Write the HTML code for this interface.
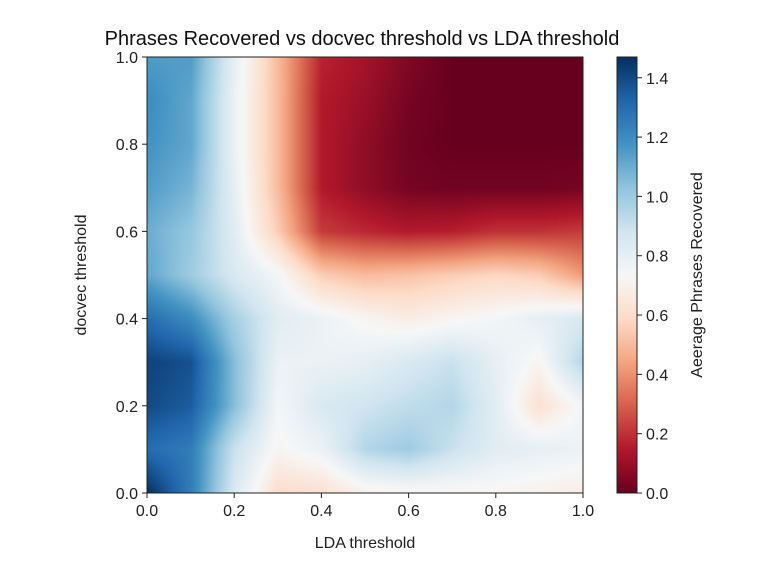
<!DOCTYPE html>
<html><head><meta charset="utf-8"><style>
body{margin:0;background:#fff;width:782px;height:571px;overflow:hidden;font-family:"Liberation Sans",sans-serif;}
#wrap{position:relative;width:782px;height:571px;}
canvas{position:absolute;}
</style></head><body>
<div id="wrap">
<canvas id="heat" width="436" height="436" style="left:147px;top:57px;width:436px;height:436px"></canvas>
<canvas id="cbar" width="20" height="436" style="left:617px;top:57px;width:20px;height:436px"></canvas>
<svg id="svg" width="782" height="571" style="position:absolute;left:0;top:0"></svg>
</div>
<script>
const ldaValues=[0,0.1,0.2,0.3,0.4,0.5,0.6,0.7,0.8,0.9,1.0];
const docvecValues=[0,0.1,0.2,0.3,0.4,0.5,0.6,0.7,0.8,0.9,1.0];
// rows: docvec 0 -> 1 ; columns: LDA 0 -> 1
const row00=[1.47,1.25,0.85,0.6,0.62,0.7,0.72,0.72,0.72,0.7,0.68];
const row01=[1.3,1.25,0.9,0.72,0.78,0.95,1.0,0.9,0.82,0.8,0.78];
const row02=[1.4,1.35,1.05,0.75,0.85,0.88,0.92,0.95,0.82,0.62,0.75];
const row03=[1.42,1.38,1.05,0.78,0.78,0.8,0.85,0.9,0.8,0.72,0.95];
const row04=[1.3,1.2,0.98,0.82,0.78,0.72,0.68,0.72,0.75,0.8,0.85];
const row05=[1.12,1.0,0.85,0.75,0.55,0.5,0.52,0.55,0.58,0.55,0.42];
const row06=[1.1,1.02,0.82,0.55,0.22,0.18,0.15,0.16,0.2,0.2,0.22];
const row07=[1.15,1.08,0.8,0.5,0.15,0.08,0.03,0.02,0.02,0.02,0.03];
const row08=[1.18,1.12,0.78,0.5,0.15,0.08,0.02,0.0,0.0,0.0,0.0];
const row09=[1.2,1.12,0.78,0.5,0.15,0.1,0.03,0.0,0.0,0.0,0.0];
const row10=[1.15,1.15,0.8,0.5,0.17,0.12,0.05,0.0,0.0,0.0,0.0];
const grid=[row00,row01,row02,row03,row04,row05,row06,row07,row08,row09,row10];
const vmin=0,vmax=1.47;
const xTicks=[0,0.2,0.4,0.6,0.8,1.0];
const yTicks=[0,0.2,0.4,0.6,0.8,1.0];
const cTicks=[0,0.2,0.4,0.6,0.8,1.0,1.2,1.4];

const L=147,R=583,T=57,B=493;
const xS=v=>L+(v-0)/(1-0)*(R-L);
const yS=v=>B-(v-0)/(1-0)*(B-T);
const cS=v=>B-(v-vmin)/(vmax-vmin)*(B-T);

const stops=[[103,0,31],[178,24,43],[214,96,77],[244,165,130],[253,219,199],[247,247,247],[209,229,240],[146,197,222],[67,147,195],[33,102,172],[5,48,97]];
function cmap(v){let t=Math.max(0,Math.min(1,(v-vmin)/(vmax-vmin)))*(stops.length-1);
let i=Math.min(stops.length-2,Math.floor(t)),f=t-i,a=stops[i],b=stops[i+1];
return [0,1,2].map(k=>Math.round(a[k]+(b[k]-a[k])*f));}
function sample(lx,dy){
 const n=ldaValues.length-1,m=docvecValues.length-1;
 let fx=lx*n,fy=dy*m;let i=Math.min(n-1,Math.floor(fx)),j=Math.min(m-1,Math.floor(fy));
 let u=fx-i,w=fy-j;
 return grid[j][i]*(1-u)*(1-w)+grid[j][i+1]*u*(1-w)+grid[j+1][i]*(1-u)*w+grid[j+1][i+1]*u*w;}
const hc=document.getElementById('heat').getContext('2d');
const img=hc.createImageData(436,436);
for(let py=0;py<436;py++)for(let px=0;px<436;px++){
 const c=cmap(sample(px/435,1-py/435));const o=(py*436+px)*4;
 img.data[o]=c[0];img.data[o+1]=c[1];img.data[o+2]=c[2];img.data[o+3]=255;}
hc.putImageData(img,0,0);
const cc=document.getElementById('cbar').getContext('2d');
for(let py=0;py<436;py++){const c=cmap(vmax-(py/435)*(vmax-vmin));cc.fillStyle=`rgb(${c})`;cc.fillRect(0,py,20,1);}

const svg=document.getElementById('svg');const NS='http://www.w3.org/2000/svg';
function el(t,a,txt){const e=document.createElementNS(NS,t);for(const k in a)e.setAttribute(k,a[k]);if(txt!=null)e.textContent=txt;svg.appendChild(e);return e;}
let e=el('rect',{x:L,y:T,width:R-L,height:B-T,fill:'none',stroke:'#222','stroke-width':1});

e=el('rect',{x:617,y:T,width:20,height:B-T,fill:'none',stroke:'#222','stroke-width':1});

xTicks.forEach(v=>{const x=xS(v);el('line',{x1:x,x2:x,y1:B,y2:B+5,stroke:'#222'});
 e=el('text',{x:x,y:B+23,'text-anchor':'middle','font-size':16,fill:'#222'},v.toFixed(1));
 });
yTicks.forEach(v=>{const y=yS(v);el('line',{x1:L-5,x2:L,y1:y,y2:y,stroke:'#222'});
 e=el('text',{x:L-9,y:y+6,'text-anchor':'end','font-size':16,fill:'#222'},v.toFixed(1));
 });
cTicks.forEach(v=>{const y=cS(v);el('line',{x1:637,x2:642,y1:y,y2:y,stroke:'#222'});
 e=el('text',{x:646,y:y+6,'font-size':16,fill:'#222'},v.toFixed(1));
 });
e=el('text',{x:362,y:45,'text-anchor':'middle','font-size':20,fill:'#111'},'Phrases Recovered vs docvec threshold vs LDA threshold');

e=el('text',{x:365,y:548,'text-anchor':'middle','font-size':16,fill:'#222'},'LDA threshold');

e=el('text',{x:0,y:0,'text-anchor':'middle','font-size':16,fill:'#222',transform:'translate(86,275) rotate(-90)'},'docvec threshold');

e=el('text',{x:0,y:0,'text-anchor':'middle','font-size':16,fill:'#222',transform:'translate(702,275) rotate(-90)'},'Aeerage Phrases Recovered');

</script>
</body></html>
